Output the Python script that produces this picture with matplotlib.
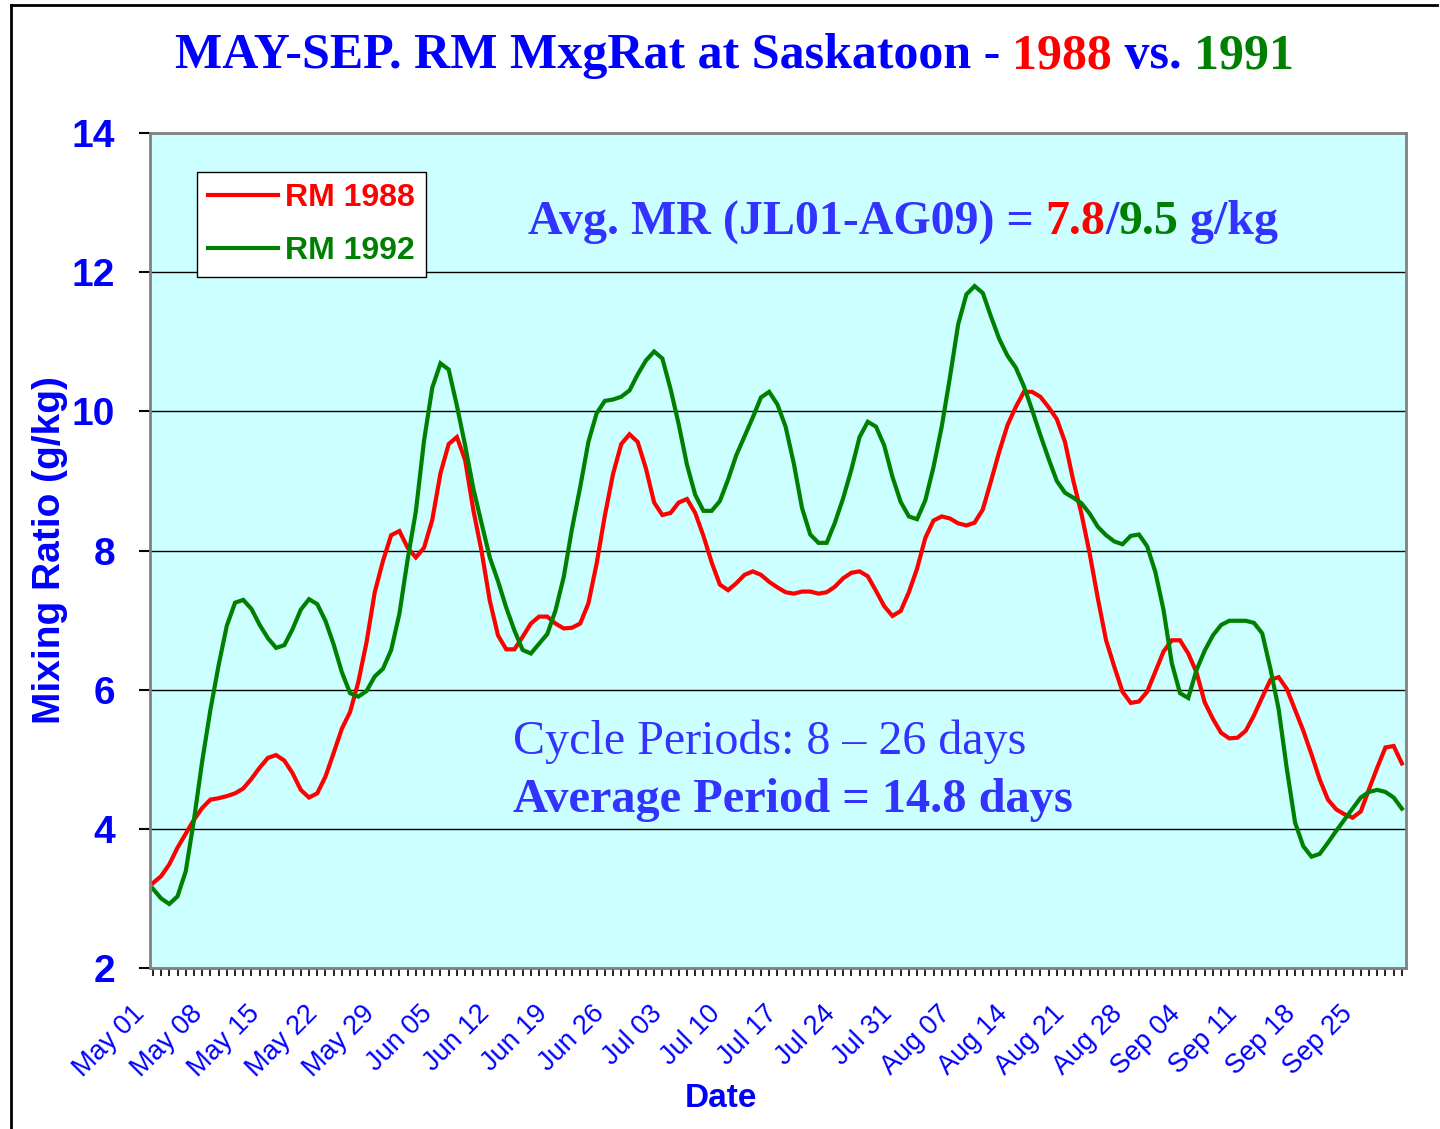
import matplotlib.pyplot as plt
import matplotlib.transforms as mtransforms
import numpy as np
import pandas as pd
from matplotlib.lines import Line2D
from matplotlib.offsetbox import TextArea, HPacker, AnchoredOffsetbox
from matplotlib.ticker import MultipleLocator

# daily values, May 01 - Sep 30
dates = pd.date_range('1988-05-01', '1988-09-30', freq='D')
days = np.arange(len(dates))

rm_1988 = [3.22, 3.32, 3.49, 3.73, 3.93, 4.13, 4.30, 4.42, 4.44, 4.47,
           4.51, 4.58, 4.72, 4.88, 5.02, 5.06, 4.98, 4.80, 4.56, 4.45,
           4.51, 4.75, 5.09, 5.44, 5.68, 6.11, 6.68, 7.40, 7.85, 8.22,
           8.28, 8.04, 7.90, 8.04, 8.44, 9.11, 9.53, 9.63, 9.30, 8.58,
           7.99, 7.28, 6.78, 6.58, 6.58, 6.76, 6.95, 7.05, 7.05, 6.95,
           6.88, 6.89, 6.95, 7.24, 7.81, 8.50, 9.10, 9.53, 9.67, 9.56,
           9.18, 8.69, 8.51, 8.54, 8.69, 8.74, 8.54, 8.21, 7.83, 7.51,
           7.43, 7.53, 7.65, 7.70, 7.65, 7.55, 7.47, 7.40, 7.38, 7.41,
           7.41, 7.38, 7.40, 7.48, 7.60, 7.68, 7.70, 7.63, 7.42, 7.20,
           7.06, 7.13, 7.40, 7.74, 8.18, 8.43, 8.49, 8.46, 8.39, 8.36,
           8.40, 8.59, 9.00, 9.42, 9.80, 10.06, 10.28, 10.28, 10.21, 10.06,
           9.89, 9.56, 9.01, 8.53, 7.96, 7.31, 6.71, 6.33, 5.97, 5.81,
           5.83, 5.97, 6.26, 6.55, 6.71, 6.71, 6.52, 6.25, 5.82, 5.58,
           5.38, 5.30, 5.31, 5.41, 5.63, 5.89, 6.14, 6.18, 6.01, 5.71,
           5.41, 5.07, 4.71, 4.42, 4.28, 4.21, 4.16, 4.25, 4.57, 4.88,
           5.17, 5.19, 4.94]

rm_1992 = [3.14, 3.00, 2.92, 3.03, 3.39, 4.13, 4.97, 5.71, 6.35, 6.92,
           7.25, 7.29, 7.16, 6.93, 6.74, 6.60, 6.64, 6.87, 7.15, 7.30,
           7.23, 6.99, 6.65, 6.25, 5.95, 5.90, 5.98, 6.19, 6.30, 6.57,
           7.09, 7.87, 8.56, 9.58, 10.34, 10.69, 10.60, 10.08, 9.51, 8.89,
           8.39, 7.90, 7.56, 7.18, 6.85, 6.57, 6.52, 6.66, 6.80, 7.14,
           7.62, 8.31, 8.91, 9.56, 9.97, 10.15, 10.17, 10.21, 10.30, 10.53,
           10.73, 10.86, 10.76, 10.32, 9.81, 9.23, 8.80, 8.57, 8.57, 8.71,
           9.02, 9.37, 9.64, 9.91, 10.20, 10.28, 10.10, 9.78, 9.25, 8.61,
           8.23, 8.11, 8.11, 8.40, 8.75, 9.16, 9.63, 9.85, 9.78, 9.51,
           9.06, 8.70, 8.49, 8.45, 8.72, 9.20, 9.78, 10.49, 11.25, 11.68,
           11.80, 11.70, 11.36, 11.04, 10.80, 10.63, 10.36, 10.02, 9.66, 9.32,
           9.00, 8.83, 8.76, 8.68, 8.53, 8.34, 8.22, 8.13, 8.09, 8.21,
           8.23, 8.06, 7.69, 7.14, 6.38, 5.95, 5.88, 6.28, 6.56, 6.78,
           6.93, 6.99, 6.99, 6.99, 6.96, 6.81, 6.30, 5.72, 4.86, 4.09,
           3.75, 3.60, 3.64, 3.80, 3.97, 4.13, 4.29, 4.45, 4.53, 4.56,
           4.53, 4.45, 4.29]

tick_days = days[::7]
tick_labels = [d.strftime('%b %d') for d in dates[::7]]

BLUE = '#0000FF'
LIGHT_BLUE = '#3333FF'
RED = '#FF0000'
GREEN = '#008000'
SANS = 'Liberation Sans'
SERIF = 'Liberation Serif'


def multicolor(parent, x, y, pieces, transform, loc='center', **textprops):
    # pieces of text side by side, each with its own colour
    boxes = [TextArea(s, textprops=dict(color=c, **textprops)) for s, c in pieces]
    pack = HPacker(children=boxes, align='baseline', pad=0, sep=0)
    box = AnchoredOffsetbox(loc=loc, child=pack, pad=0, borderpad=0, frameon=False,
                            bbox_to_anchor=(x, y), bbox_transform=transform)
    parent.add_artist(box)


fig = plt.figure(figsize=(14.4, 11.29), dpi=100)
ax = fig.add_axes([150 / 1440, 1 - 968 / 1129, 1256 / 1440, 835 / 1129])
ax.set_facecolor('#CCFFFF')

ax.plot(days, rm_1988, color=RED, lw=3, label='RM 1988', solid_joinstyle='miter')
ax.plot(days, rm_1992, color=GREEN, lw=3, label='RM 1992', solid_joinstyle='miter')

ax.set_xlim(-0.35, 152.5)
ax.set_ylim(2, 14)
ax.set_yticks(np.arange(2, 15, 2))
ax.set_xticks(tick_days)
ax.xaxis.set_minor_locator(MultipleLocator(1))
ax.tick_params(axis='x', which='both', direction='out', length=6, width=1.2, pad=24)
ax.tick_params(axis='y', direction='out', length=8, width=1.5, pad=17,
               labelsize=28, labelcolor=BLUE)
ax.set_xticklabels(tick_labels, rotation=45, ha='right', va='center',
                   rotation_mode='anchor', fontsize=19.5, color=BLUE, family=SANS)
# nudge the slanted date labels left so they end under their tick
shift = mtransforms.ScaledTranslation(-12 / 100, 0, fig.dpi_scale_trans)
for lab in ax.get_xticklabels():
    lab.set_transform(lab.get_transform() + shift)
for lab in ax.get_yticklabels():
    lab.set_fontweight('bold')
    lab.set_family(SANS)

ax.yaxis.grid(True, color='black', lw=1)
ax.set_axisbelow(True)
for side in ax.spines:
    ax.spines[side].set_color('#808080')
    ax.spines[side].set_linewidth(2)

ax.set_ylabel('Mixing Ratio (g/kg)', fontsize=28, fontweight='bold', color=BLUE,
              family=SANS, labelpad=3)
ax.set_xlabel('Date', fontsize=24, fontweight='bold', color=BLUE, family=SANS, labelpad=0)
ax.xaxis.set_label_coords(0.4546, -0.138)

leg = ax.legend(loc='upper left', bbox_to_anchor=(0.0374, 0.953), borderaxespad=0,
                fancybox=False, edgecolor='black', facecolor='white', framealpha=1,
                prop={'family': SANS, 'weight': 'bold', 'size': 23},
                labelcolor='linecolor', handlelength=2.2, handletextpad=0.2,
                borderpad=0.35, labelspacing=0.7)
leg.get_frame().set_linewidth(1)

# title
multicolor(fig, 0.510, 0.950,
           [('MAY-SEP. RM MxgRat at Saskatoon - ', BLUE), ('1988', RED),
            (' vs. ', BLUE), ('1991', GREEN)],
           fig.transFigure, family=SERIF, fontweight='bold', fontsize=36)

# annotations
multicolor(ax, 0.5995, 0.893,
           [('Avg. MR (JL01-AG09) = ', LIGHT_BLUE), ('7.8', RED), ('/', LIGHT_BLUE),
            ('9.5', GREEN), (' g/kg', LIGHT_BLUE)],
           ax.transAxes, family=SERIF, fontweight='bold', fontsize=34.5)
ax.text(0.289, 0.271, 'Cycle Periods: 8 \u2013 26 days', transform=ax.transAxes,
        family=SERIF, fontsize=34.6, color=LIGHT_BLUE, va='center', ha='left')
ax.text(0.289, 0.201, 'Average Period = 14.8 days', transform=ax.transAxes,
        family=SERIF, fontsize=34.8, fontweight='bold', color=LIGHT_BLUE,
        va='center', ha='left')

# outer frame
fig.add_artist(Line2D([11 / 1440, 11 / 1440], [0, 1 - 5 / 1129], color='black', lw=2,
                      transform=fig.transFigure))
fig.add_artist(Line2D([11 / 1440, 1437 / 1440], [1 - 5 / 1129, 1 - 5 / 1129],
                      color='black', lw=2, transform=fig.transFigure))

fig.savefig('out.png', dpi=100)
